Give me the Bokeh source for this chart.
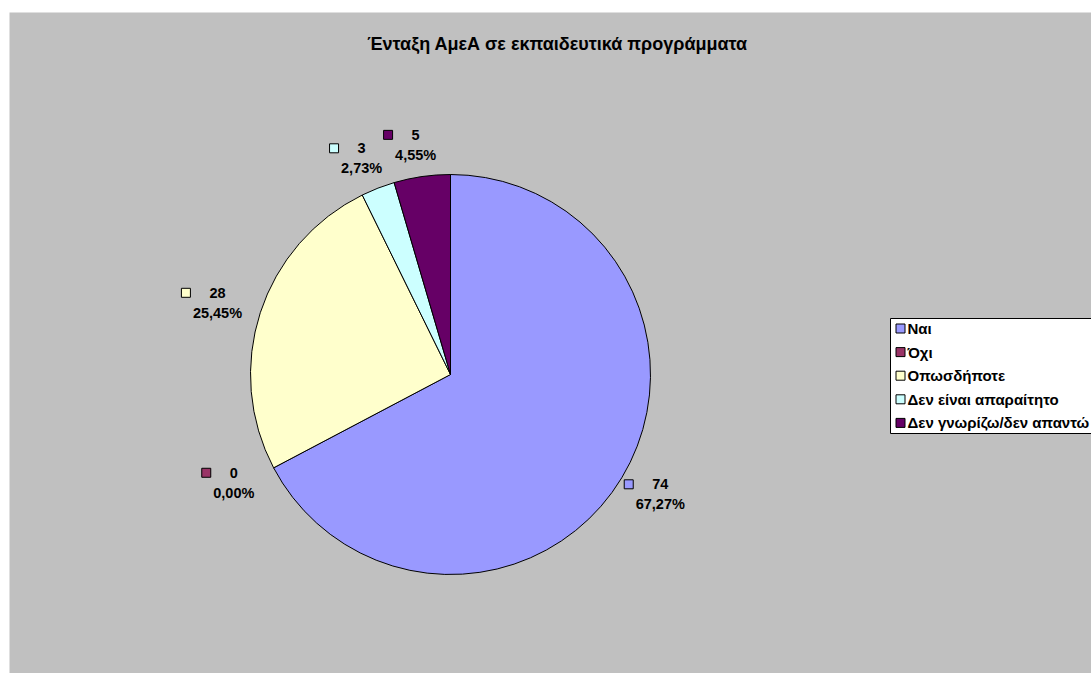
import math
from bokeh.plotting import figure
from bokeh.models import Range1d
from bokeh.core.properties import value
from bokeh.embed import file_html
from bokeh.resources import INLINE

title = "Ένταξη ΑμεΑ σε εκπαιδευτικά προγράμματα"
categories = ["Ναι", "Όχι", "Οπωσδήποτε", "Δεν είναι απαραίτητο", "Δεν γνωρίζω/δεν απαντώ"]
counts = [74, 0, 28, 3, 5]
colors = ["#9999FF", "#993366", "#FFFFCC", "#CCFFFF", "#660066"]

FONT = value("Liberation Sans")
W, H = 1091, 673
p = figure(width=W, height=H, output_backend="svg", toolbar_location=None,
           x_range=Range1d(9, 1091), y_range=Range1d(-673, -12),
           min_border_left=9, min_border_right=0, min_border_top=12, min_border_bottom=0)
p.axis.visible = False
p.grid.visible = False
p.outline_line_color = None
p.background_fill_color = "#C0C0C0"
p.border_fill_color = "white"

cx, cy, R = 450, -374, 200
total = sum(counts)

# wedges (clockwise from 12 o'clock)
ang = math.pi / 2
starts, ends, cols, mids = [], [], [], []
for v, c in zip(counts, colors):
    sweep = 2 * math.pi * v / total
    a0, a1 = ang - sweep, ang
    mids.append((a0 + a1) / 2)
    if v > 0:
        starts.append(a0); ends.append(a1); cols.append(c)
    ang = a0
p.wedge(x=cx, y=cy, radius=R, start_angle=starts, end_angle=ends,
        fill_color=cols, line_color="black", line_width=1)

LFS = 14.5
def est_width(s, fs=LFS):
    w = 0
    for ch in s:
        if ch.isdigit():
            w += 0.556
        elif ch == ",":
            w += 0.278
        elif ch == "%":
            w += 0.889
        else:
            w += 0.6
    return w * fs

LRX, LRY = 245, 232
for v, c, m in zip(counts, colors, mids):
    pct = f"{v / total * 100:.2f}".replace(".", ",") + "%"
    lx = cx + LRX * math.cos(m)
    ly = cy + LRY * math.sin(m)
    p.text(x=[lx], y=[ly + 10], text=[str(v)], text_align="center", text_baseline="middle",
           text_font=FONT, text_font_style="bold", text_font_size=f"{LFS}px", text_color="black")
    p.text(x=[lx], y=[ly - 10], text=[pct], text_align="center", text_baseline="middle",
           text_font=FONT, text_font_style="bold", text_font_size=f"{LFS}px", text_color="black")
    sx = lx - est_width(pct) / 2 - 7
    p.rect(x=[sx], y=[ly + 10], width=9, height=9, width_units="screen", height_units="screen",
           fill_color=c, line_color="black", line_width=1)

# title
p.text(x=[557], y=[-43], text=[title], text_align="center", text_baseline="middle",
       text_font=FONT, text_font_style="bold", text_font_size="18px", text_color="black")

# legend (box runs past the right edge, as in the original)
LX0, LY0, LY1 = 890, -318, -433
p.quad(left=[LX0], right=[1300], top=[LY0], bottom=[LY1], fill_color="white", line_color=None)
p.multi_line(xs=[[1300, LX0, LX0, 1300]], ys=[[LY0, LY0, LY1, LY1]], line_color="black", line_width=1)
for i, (lab, c) in enumerate(zip(categories, colors)):
    yy = -(328 + i * 23.6)
    p.rect(x=[900], y=[yy], width=9, height=9, width_units="screen", height_units="screen",
           fill_color=c, line_color="black", line_width=1)
    p.text(x=[907], y=[yy], text=[lab], text_align="left", text_baseline="middle",
           text_font=FONT, text_font_style="bold", text_font_size="15px", text_color="black")

open("out.html", "w").write(file_html(p, INLINE))
